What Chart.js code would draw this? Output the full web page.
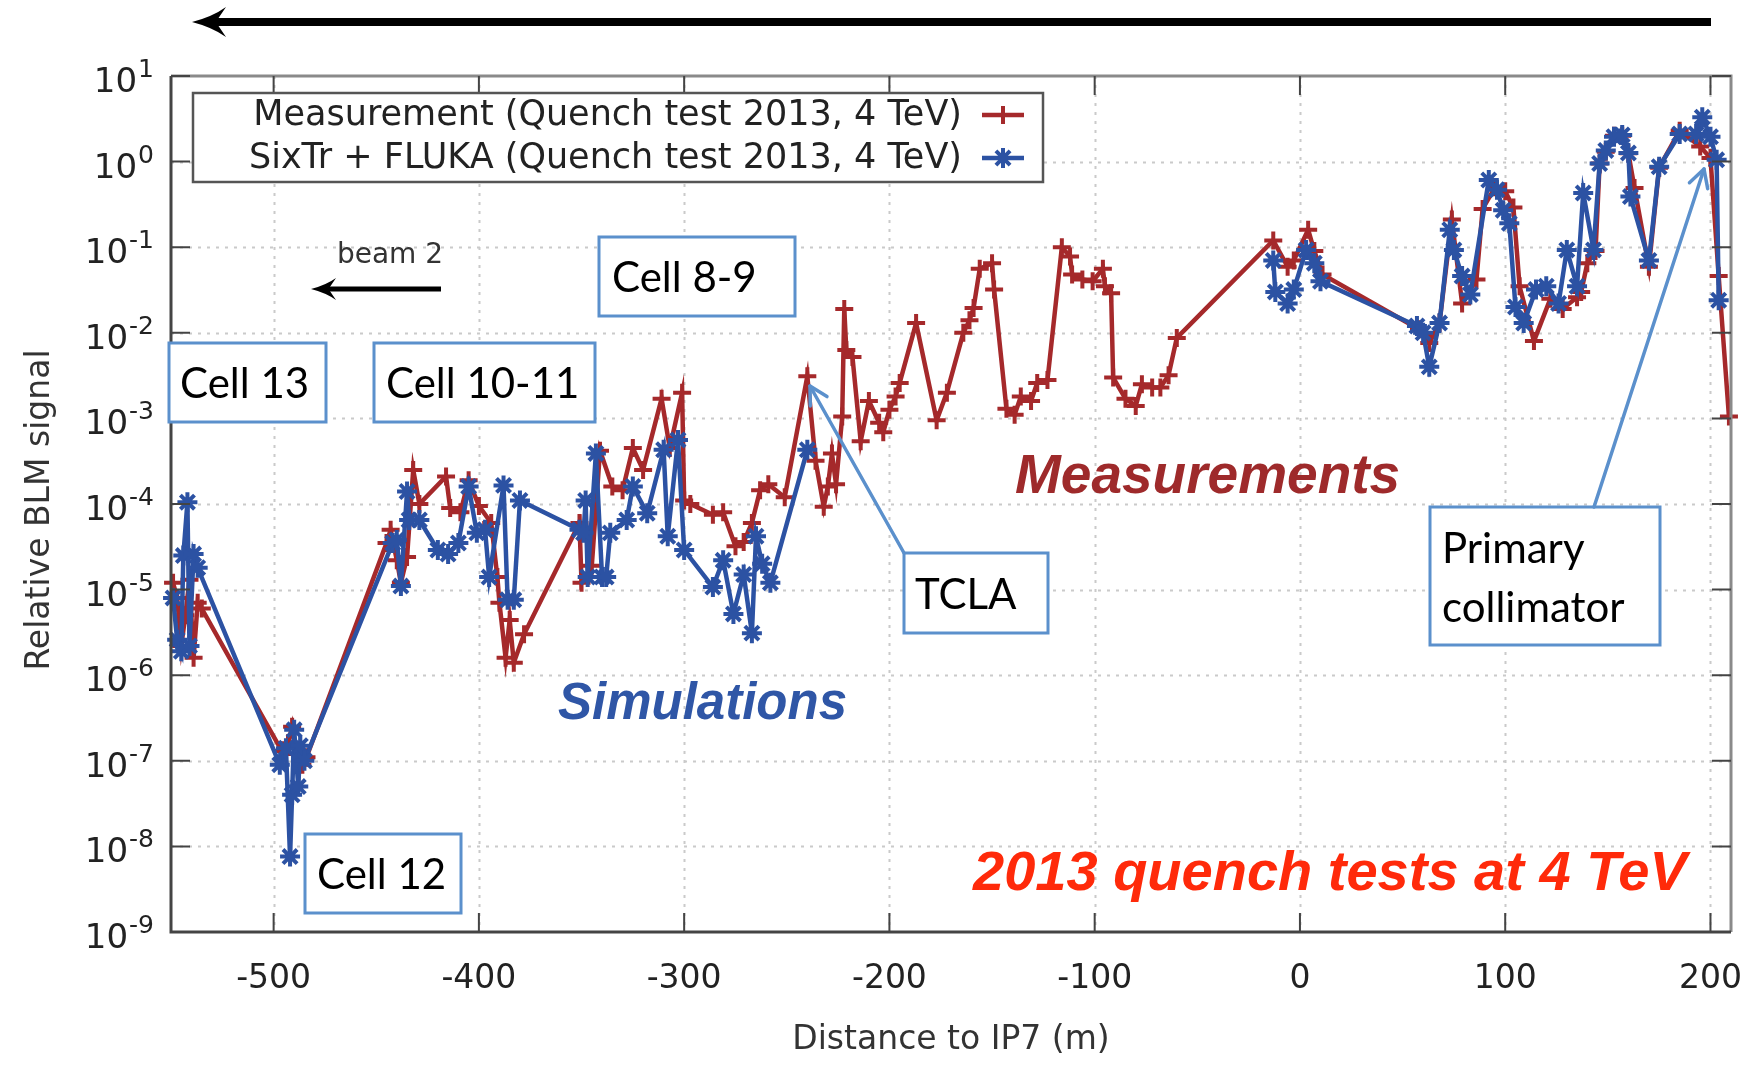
<!DOCTYPE html>
<html>
<head>
<meta charset="utf-8">
<title>Relative BLM signal</title>
<script src="https://cdn.jsdelivr.net/npm/chart.js@4.4.1/dist/chart.umd.min.js"></script>
<style>
    html, body { margin: 0; padding: 0; background: #fff; }
    canvas { display: block; }
</style>
</head>
<body>
<canvas id="blm" width="1750" height="1066" style="width:1750px;height:1066px"></canvas>
<script>
// ..........................................     DATA     ..........................................

// Measurement (Quench test 2013, 4 TeV)
const measX = [-549, -547, -545, -543, -541, -539, -537, -535,
    -496, -493, -491, -489, -486, -484,
    -445, -443, -440, -438, -435, -432, -429, -416, -414, -409, -405, -400, -394, -391, -390, -387, -385, -383, -378,
    -351, -350, -345, -341, -335, -330, -325, -320, -311, -307, -301, -300, -297, -286, -281, -275, -271, -267, -263, -259, -251,
    -240, -236, -232, -230, -228, -226, -223, -222, -221, -218, -214, -210, -205, -203, -200, -197, -195, -187, -177, -172,
    -164, -161, -159, -156, -150, -149, -143, -139, -136, -131, -128, -123, -116, -112, -111, -106, -101, -96, -95, -92, -91,
    -85, -80, -77, -72, -68, -64, -60,
    -13, -6, -3, 4, 7, 11, 58, 63, 68, 74, 79, 86, 89, 95, 100, 104, 107, 114, 122, 128, 135, 137, 140, 144,
    146, 149, 153, 157, 160, 163, 170, 175, 185, 195, 200, 204, 209];
const measY = [1.2e-5, 8e-6, 2.2e-6, 5e-6, 1.3e-5, 1.6e-6, 7e-6, 6e-6,
    1.3e-7, 1.6e-7, 2.5e-7, 1.2e-7, 9e-8, 1.1e-7,
    3.5e-5, 5e-5, 2.2e-5, 1.2e-5, 2.4e-5, 2.5e-4, 1e-4, 2.1e-4, 9e-5, 8e-5, 1.9e-4, 9.5e-5, 6e-5, 1.4e-5, 7e-6, 1.6e-6, 4.4e-6, 1.4e-6, 3e-6,
    6e-5, 1.2e-5, 1.9e-5, 4.2e-4, 1.6e-4, 1.45e-4, 4.5e-4, 2.5e-4, 1.7e-3, 4.5e-4, 2e-3, 1.1e-4, 1e-4, 7.5e-5, 8e-5, 3.2e-5, 3.6e-5, 6e-5, 1.45e-4, 1.7e-4, 1.2e-4,
    3.1e-3, 3.2e-4, 9.3e-5, 1.6e-4, 3.9e-4, 1.7e-4, 1.05e-3, 1.9e-2, 6.3e-3, 5.2e-3, 5.4e-4, 1.6e-3, 8.9e-4, 6.9e-4, 1.26e-3, 1.8e-3, 2.6e-3, 1.3e-2, 9.5e-4, 2e-3,
    1e-2, 1.4e-2, 1.95e-2, 5.6e-2, 6.5e-2, 3.2e-2, 1.3e-3, 1.1e-3, 1.8e-3, 1.6e-3, 2.6e-3, 2.8e-3, 0.1, 7.8e-2, 4.8e-2, 4.2e-2, 4e-2, 5.6e-2, 3.5e-2, 2.9e-2, 3e-3,
    1.7e-3, 1.4e-3, 2.5e-3, 2.3e-3, 2.3e-3, 3.2e-3, 8.7e-3,
    0.12, 0.059, 0.07, 0.16, 0.09, 0.048, 0.011, 7.6e-3, 0.013, 0.21, 0.022, 0.042, 0.28, 0.5, 0.45, 0.29, 0.035, 8e-3, 0.025, 0.019, 0.026, 0.03, 0.065, 0.09,
    0.95, 1.3, 2, 2, 1.25, 0.49, 0.059, 0.85, 2.3, 1.5, 1.1, 0.046, 1.05e-3];

// SixTr + FLUKA (Quench test 2013, 4 TeV)  (null = no simulated value, line broken)
const simX = [-549, -547, -545, -544, -542, -541, -539, -537,
    -497, -494, -492, -491, -490, -488, -487, -485,
    -442, -440, -438, -435, -434, -429, -420, -415, -410, -405, -401, -397, -395, -388, -386, -383, -380,
    -351, -349, -348, -347, -343, -340, -338, -336, -328, -325, -318, -310, -308, -303, -300,
    -286, -281, -276, -271, -267, -265, -262, -258, -240,
    -120,
    -13, -12, -6, -3, 3, 7, 10, 57, 60, 63, 68, 73, 75, 79, 83, 92, 96, 99, 102, 105, 109, 115, 120, 126, 130, 135, 138, 143,
    146, 149, 153, 157, 160, 161, 170, 175, 185, 193, 196, 200, 203, 204];
const simY = [8e-6, 2.6e-6, 1.9e-6, 2.5e-5, 1.05e-4, 2.2e-6, 2.6e-5, 1.8e-5,
    9e-8, 1.4e-7, 7.6e-9, 4e-8, 2.3e-7, 5e-8, 1.5e-7, 1e-7,
    3.5e-5, 3.8e-5, 1.1e-5, 1.4e-4, 6.5e-5, 6.5e-5, 2.9e-5, 2.6e-5, 3.5e-5, 1.6e-4, 4.6e-5, 5e-5, 1.4e-5, 1.65e-4, 7.6e-6, 7.6e-6, 1.1e-4,
    5e-5, 4.6e-5, 1.1e-4, 1.4e-5, 3.9e-4, 1.4e-5, 1.4e-5, 4.6e-5, 6.5e-5, 1.6e-4, 7.8e-5, 4.3e-4, 4.2e-5, 5.6e-4, 2.9e-5,
    1.07e-5, 2.2e-5, 5.2e-6, 1.5e-5, 3.1e-6, 4.2e-5, 2e-5, 1.2e-5, 4.3e-4,
    null,
    0.07, 0.03, 0.022, 0.032, 0.093, 0.065, 0.04, 0.012, 0.01, 4e-3, 0.013, 0.16, 0.093, 0.046, 0.028, 0.61, 0.47, 0.27, 0.19, 0.02, 0.013, 0.032, 0.035, 0.022, 0.093, 0.035, 0.43, 0.093,
    0.95, 1.35, 1.95, 2.05, 1.26, 0.39, 0.07, 0.87, 2.1, 2.1, 3.3, 1.95, 1.05, 0.024];

const xTickValues = [-500, -400, -300, -200, -100, 0, 100, 200];
const xTickLabels = ['-500', '-400', '-300', '-200', '-100', '0', '100', '200'];
const yTickValues = [10, 1, 0.1, 0.01, 1e-3, 1e-4, 1e-5, 1e-6, 1e-7, 1e-8, 1e-9];
const yTickPowers = ['1', '0', '-1', '-2', '-3', '-4', '-5', '-6', '-7', '-8', '-9'];

const measPoints = measX.map((x, i) => ({ x: x, y: measY[i] }));
const simPoints = simX.map((x, i) => ({ x: x, y: simY[i] }));

const RED = '#a5292b';
const BLUE = '#2c52a3';
const NOTE_BLUE = '#5b90cc';
const FONT = '"DejaVu Sans"';

// ..........................................     HELPERS     ..........................................

function openArrow(ctx, x1, y1, x2, y2) {
    const a = Math.atan2(y2 - y1, x2 - x1);
    const head = 20;
    ctx.save();
    ctx.strokeStyle = NOTE_BLUE;
    ctx.lineWidth = 3.5;
    ctx.lineCap = 'round';
    ctx.lineJoin = 'round';
    ctx.beginPath();
    ctx.moveTo(x1, y1);
    ctx.lineTo(x2, y2);
    ctx.stroke();
    ctx.beginPath();
    ctx.moveTo(x2 - head * Math.cos(a - 0.5), y2 - head * Math.sin(a - 0.5));
    ctx.lineTo(x2, y2);
    ctx.lineTo(x2 - head * Math.cos(a + 0.5), y2 - head * Math.sin(a + 0.5));
    ctx.stroke();
    ctx.restore();
}

function blackArrow(ctx, xStart, xTip, y, width, len, half) {
    ctx.save();
    ctx.fillStyle = '#000';
    ctx.fillRect(xTip + len * 0.6, y - width / 2, xStart - xTip - len * 0.6, width);
    ctx.beginPath();
    ctx.moveTo(xTip, y);
    ctx.quadraticCurveTo(xTip + len * 0.6, y - half * 0.35, xTip + len, y - half);
    ctx.lineTo(xTip + len * 0.7, y);
    ctx.lineTo(xTip + len, y + half);
    ctx.quadraticCurveTo(xTip + len * 0.6, y + half * 0.35, xTip, y);
    ctx.closePath();
    ctx.fill();
    ctx.restore();
}

function noteBox(ctx, x, y, w, h, lines, textX, lineYs) {
    ctx.save();
    ctx.fillStyle = '#fff';
    ctx.fillRect(x, y, w, h);
    ctx.strokeStyle = NOTE_BLUE;
    ctx.lineWidth = 3;
    ctx.strokeRect(x, y, w, h);
    ctx.fillStyle = '#000';
    ctx.font = '42px "Lato"';
    ctx.textAlign = 'left';
    ctx.textBaseline = 'middle';
    lines.forEach((t, i) => ctx.fillText(t, textX, lineYs[i]));
    ctx.restore();
}

function legendMarker(ctx, style, cx, cy, r) {
    ctx.beginPath();
    ctx.moveTo(cx - r, cy);
    ctx.lineTo(cx + r, cy);
    ctx.moveTo(cx, cy - r);
    ctx.lineTo(cx, cy + r);
    if (style === 'star') {
        const d = r * Math.SQRT1_2;
        ctx.moveTo(cx - d, cy - d);
        ctx.lineTo(cx + d, cy + d);
        ctx.moveTo(cx - d, cy + d);
        ctx.lineTo(cx + d, cy - d);
    }
    ctx.stroke();
}

// ..........................................     FRAME / GRID PLUGIN     ..........................................

const gnuplotFrame = {
    id: 'gnuplotFrame',
    beforeDatasetsDraw(chart) {
        const ctx = chart.ctx;
        const area = chart.chartArea;
        const xs = chart.scales.x;
        const ys = chart.scales.y;
        ctx.save();
        ctx.strokeStyle = '#cacaca';
        ctx.lineWidth = 2;
        ctx.setLineDash([3, 6]);
        xTickValues.forEach(v => {
            const px = Math.round(xs.getPixelForValue(v)) + 0.5;
            ctx.beginPath();
            ctx.moveTo(px, area.top);
            ctx.lineTo(px, area.bottom);
            ctx.stroke();
        });
        yTickValues.slice(1, -1).forEach(v => {
            const py = Math.round(ys.getPixelForValue(v)) + 0.5;
            ctx.beginPath();
            ctx.moveTo(area.left, py);
            ctx.lineTo(area.right, py);
            ctx.stroke();
        });
        ctx.restore();
    },
    afterDatasetsDraw(chart) {
        const ctx = chart.ctx;
        const area = chart.chartArea;
        const xs = chart.scales.x;
        const ys = chart.scales.y;
        const tick = 19;

        ctx.save();
        // frame
        ctx.lineWidth = 3;
        ctx.strokeStyle = '#8a8a8a';
        ctx.beginPath();
        ctx.moveTo(area.left, area.top);
        ctx.lineTo(area.right, area.top);
        ctx.lineTo(area.right, area.bottom);
        ctx.stroke();
        ctx.strokeStyle = '#444';
        ctx.beginPath();
        ctx.moveTo(area.left, area.top);
        ctx.lineTo(area.left, area.bottom);
        ctx.lineTo(area.right, area.bottom);
        ctx.stroke();

        // inward ticks
        ctx.lineWidth = 2;
        ctx.strokeStyle = '#444';
        xTickValues.forEach(v => {
            const px = xs.getPixelForValue(v);
            ctx.beginPath();
            ctx.moveTo(px, area.bottom);
            ctx.lineTo(px, area.bottom - tick);
            ctx.moveTo(px, area.top);
            ctx.lineTo(px, area.top + tick);
            ctx.stroke();
        });
        yTickValues.forEach(v => {
            const py = ys.getPixelForValue(v);
            ctx.beginPath();
            ctx.moveTo(area.left, py);
            ctx.lineTo(area.left + tick, py);
            ctx.moveTo(area.right, py);
            ctx.lineTo(area.right - tick, py);
            ctx.stroke();
        });

        // tick labels
        ctx.fillStyle = '#222';
        ctx.font = '33px ' + FONT;
        ctx.textAlign = 'center';
        ctx.textBaseline = 'alphabetic';
        xTickValues.forEach((v, i) => {
            ctx.fillText(xTickLabels[i], xs.getPixelForValue(v), area.bottom + 56);
        });
        yTickValues.forEach((v, i) => {
            const py = ys.getPixelForValue(v);
            const right = area.left - 17;
            ctx.font = '25px ' + FONT;
            ctx.textAlign = 'right';
            ctx.fillText(yTickPowers[i], right, py + 1);
            const pw = ctx.measureText(yTickPowers[i]).width;
            ctx.font = '34px ' + FONT;
            ctx.fillText('10', right - pw - 1, py + 16);
        });

        // axis titles
        ctx.fillStyle = '#333';
        ctx.font = '33px ' + FONT;
        ctx.textAlign = 'center';
        ctx.textBaseline = 'middle';
        ctx.fillText('Distance to IP7 (m)', (area.left + area.right) / 2, 1040);
        ctx.save();
        ctx.translate(40, (area.top + area.bottom) / 2 + 6);
        ctx.rotate(-Math.PI / 2);
        ctx.fillText('Relative BLM signal', 0, 0);
        ctx.restore();

        // legend
        ctx.fillStyle = '#fff';
        ctx.fillRect(193, 93, 850, 89);
        ctx.strokeStyle = '#555';
        ctx.lineWidth = 2.5;
        ctx.strokeRect(193, 93, 850, 89);
        ctx.font = '35px ' + FONT;
        ctx.textAlign = 'right';
        chart.data.datasets.forEach((ds, i) => {
            const y = 115 + i * 43;
            ctx.fillStyle = '#222';
            ctx.fillText(ds.label, 962, y + 1);
            ctx.strokeStyle = ds.borderColor;
            ctx.lineWidth = ds.borderWidth;
            ctx.beginPath();
            ctx.moveTo(982, y);
            ctx.lineTo(1024, y);
            ctx.stroke();
            ctx.lineWidth = ds.pointBorderWidth;
            legendMarker(ctx, ds.pointStyle, 1003, y, ds.pointRadius);
        });
        ctx.restore();
    },
    afterDraw(chart) {
        const ctx = chart.ctx;

        // beam direction arrows
        blackArrow(ctx, 1711, 192, 22, 8, 34, 15);
        ctx.save();
        ctx.fillStyle = '#333';
        ctx.font = '28px ' + FONT;
        ctx.textAlign = 'center';
        ctx.textBaseline = 'middle';
        ctx.fillText('beam 2', 390, 256);
        ctx.restore();
        blackArrow(ctx, 441, 311, 289, 5, 25, 11);

        // callouts
        noteBox(ctx, 169, 343, 157, 79, ['Cell 13'], 180, [384]);
        noteBox(ctx, 374, 343, 221, 79, ['Cell 10-11'], 386, [384]);
        noteBox(ctx, 599, 237, 196, 79, ['Cell 8-9'], 612, [278]);
        noteBox(ctx, 305, 834, 156, 79, ['Cell 12'], 317, [875]);
        noteBox(ctx, 904, 553, 144, 80, ['TCLA'], 915, [595]);
        noteBox(ctx, 1430, 507, 230, 138, ['Primary', 'collimator'], 1442, [549, 608]);
        openArrow(ctx, 904, 553, 810, 386);
        openArrow(ctx, 1594, 507, 1704, 169);

        // labels
        ctx.save();
        ctx.textAlign = 'left';
        ctx.textBaseline = 'alphabetic';
        ctx.font = 'italic bold 55px "Liberation Sans"';
        ctx.fillStyle = '#9e2a2b';
        ctx.fillText('Measurements', 1015, 493);
        ctx.fillStyle = '#2f56a6';
        ctx.font = 'italic bold 51px "Liberation Sans"';
        ctx.fillText('Simulations', 558, 719);
        ctx.fillStyle = '#ff2a0a';
        ctx.font = 'italic bold 56px "Liberation Sans"';
        ctx.fillText('2013 quench tests at 4 TeV', 973, 890);
        ctx.restore();
    }
};

// ..........................................     CHART     ..........................................

const config = {
    type: 'line',
    data: {
        datasets: [{
            label: 'Measurement (Quench test 2013, 4 TeV)',
            data: measPoints,
            borderColor: RED,
            backgroundColor: RED,
            borderWidth: 4.5,
            pointStyle: 'cross',
            pointRadius: 9,
            pointBorderWidth: 4,
            pointBorderColor: RED,
            fill: false,
            tension: 0,
            clip: false,
            order: 2
        }, {
            label: 'SixTr + FLUKA (Quench test 2013, 4 TeV)',
            data: simPoints,
            borderColor: BLUE,
            backgroundColor: BLUE,
            borderWidth: 4.5,
            pointStyle: 'star',
            pointRadius: 10,
            pointBorderWidth: 4,
            pointBorderColor: BLUE,
            fill: false,
            tension: 0,
            clip: false,
            spanGaps: false,
            order: 1
        }]
    },
    options: {
        responsive: false,
        animation: false,
        devicePixelRatio: 1,
        layout: { padding: { left: 171, right: 19, top: 76, bottom: 134 } },
        scales: {
            x: { type: 'linear', min: -550, max: 210, display: false },
            y: { type: 'logarithmic', min: 1e-9, max: 10, display: false }
        },
        plugins: {
            legend: { display: false },
            tooltip: { enabled: false }
        }
    },
    plugins: [gnuplotFrame]
};

const blmChart = new Chart(document.getElementById('blm'), config);
</script>
</body>
</html>
